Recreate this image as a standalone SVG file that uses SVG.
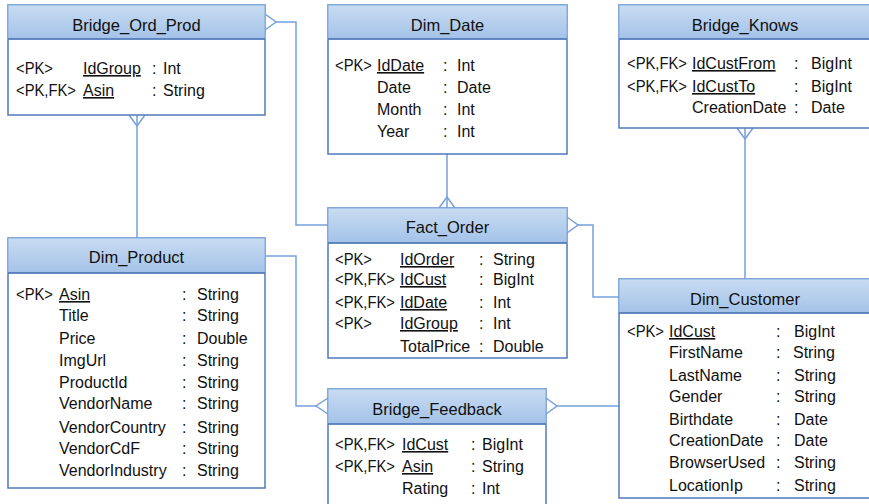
<svg xmlns="http://www.w3.org/2000/svg" width="869" height="504" viewBox="0 0 869 504">
<defs>
<linearGradient id="hg" x1="0" y1="0" x2="0" y2="1">
<stop offset="0" stop-color="#c9dcf2"/>
<stop offset="1" stop-color="#a3c2e8"/>
</linearGradient>
<style>
.body{fill:#ffffff;stroke:#5079bb;stroke-width:1.5}
.head{fill:url(#hg);stroke:#8cb2e2;stroke-width:1.2}
.div{stroke:#4a72b4;stroke-width:1.5}
.t{font-family:"Liberation Sans",Arial,sans-serif;font-size:16px;fill:#111}
.title{font-family:"Liberation Sans",Arial,sans-serif;font-size:16.5px;fill:#111;text-anchor:middle}
.u{text-decoration:underline;text-decoration-thickness:2px}
.con{fill:none;stroke:#76a0db;stroke-width:1.5}
</style>
</defs>
<rect width="869" height="504" fill="#ffffff"/>

<g id="connectors">
<polyline class="con" points="265,14 276,22 265,30"/>
<polyline class="con" points="276,22 296,22 296,225 328,225"/>
<polyline class="con" points="129,115 137,126 145,115"/>
<polyline class="con" points="137,115 137,238"/>
<polyline class="con" points="447,154 447,208"/>
<polyline class="con" points="439,208 447,197 455,208"/>
<polyline class="con" points="567,217 578,225 567,233"/>
<polyline class="con" points="578,225 593,225 593,297 619,297"/>
<polyline class="con" points="737,128 745,139 753,128"/>
<polyline class="con" points="745,128 745,279"/>
<polyline class="con" points="265,256 296,256 296,406 316,406"/>
<polyline class="con" points="328,398 316,406 328,414"/>
<polyline class="con" points="546,398 557,406 546,414"/>
<polyline class="con" points="557,406 619,406"/>
</g>

<g id="Bridge_Ord_Prod">
<rect class="body" x="8" y="5" width="257" height="110"/>
<rect class="head" x="8" y="5" width="257" height="34"/>
<line class="div" x1="8" y1="39" x2="265" y2="39"/>
<text class="title" x="136.5" y="31">Bridge_Ord_Prod</text>
<text class="t" x="16" y="74" textLength="37" lengthAdjust="spacingAndGlyphs">&lt;PK&gt;</text>
<text class="t u" x="83" y="74">IdGroup</text>
<text class="t" x="152" y="74">:</text>
<text class="t" x="163" y="74">Int</text>
<text class="t" x="16" y="96" textLength="60" lengthAdjust="spacingAndGlyphs">&lt;PK,FK&gt;</text>
<text class="t u" x="83" y="96">Asin</text>
<text class="t" x="152" y="96">:</text>
<text class="t" x="163" y="96">String</text>
</g>

<g id="Dim_Date">
<rect class="body" x="328" y="5" width="239" height="149"/>
<rect class="head" x="328" y="5" width="239" height="34"/>
<line class="div" x1="328" y1="39" x2="567" y2="39"/>
<text class="title" x="447.5" y="31">Dim_Date</text>
<text class="t" x="335" y="71" textLength="37" lengthAdjust="spacingAndGlyphs">&lt;PK&gt;</text>
<text class="t u" x="377" y="71">IdDate</text>
<text class="t" x="443" y="71">:</text>
<text class="t" x="457" y="71">Int</text>
<text class="t" x="377" y="93">Date</text>
<text class="t" x="443" y="93">:</text>
<text class="t" x="457" y="93">Date</text>
<text class="t" x="377" y="115">Month</text>
<text class="t" x="443" y="115">:</text>
<text class="t" x="457" y="115">Int</text>
<text class="t" x="377" y="137">Year</text>
<text class="t" x="443" y="137">:</text>
<text class="t" x="457" y="137">Int</text>
</g>

<g id="Bridge_Knows">
<rect class="body" x="619" y="5" width="252" height="123"/>
<rect class="head" x="619" y="5" width="252" height="34"/>
<line class="div" x1="619" y1="39" x2="871" y2="39"/>
<text class="title" x="745" y="31">Bridge_Knows</text>
<text class="t" x="627" y="69" textLength="60" lengthAdjust="spacingAndGlyphs">&lt;PK,FK&gt;</text>
<text class="t u" x="692" y="69">IdCustFrom</text>
<text class="t" x="794" y="69">:</text>
<text class="t" x="811" y="69">BigInt</text>
<text class="t" x="627" y="92" textLength="60" lengthAdjust="spacingAndGlyphs">&lt;PK,FK&gt;</text>
<text class="t u" x="692" y="92">IdCustTo</text>
<text class="t" x="794" y="92">:</text>
<text class="t" x="811" y="92">BigInt</text>
<text class="t" x="692" y="113">CreationDate</text>
<text class="t" x="794" y="113">:</text>
<text class="t" x="811" y="113">Date</text>
</g>

<g id="Dim_Product">
<rect class="body" x="8" y="238" width="257" height="250"/>
<rect class="head" x="8" y="238" width="257" height="35"/>
<line class="div" x1="8" y1="273" x2="265" y2="273"/>
<text class="title" x="136.5" y="263">Dim_Product</text>
<text class="t" x="16" y="300" textLength="37" lengthAdjust="spacingAndGlyphs">&lt;PK&gt;</text>
<text class="t u" x="59" y="300">Asin</text>
<text class="t" x="182" y="300">:</text>
<text class="t" x="197" y="300">String</text>
<text class="t" x="59" y="321">Title</text>
<text class="t" x="182" y="321">:</text>
<text class="t" x="197" y="321">String</text>
<text class="t" x="59" y="344">Price</text>
<text class="t" x="182" y="344">:</text>
<text class="t" x="197" y="344">Double</text>
<text class="t" x="59" y="366">ImgUrl</text>
<text class="t" x="182" y="366">:</text>
<text class="t" x="197" y="366">String</text>
<text class="t" x="59" y="388">ProductId</text>
<text class="t" x="182" y="388">:</text>
<text class="t" x="197" y="388">String</text>
<text class="t" x="59" y="409">VendorName</text>
<text class="t" x="182" y="409">:</text>
<text class="t" x="197" y="409">String</text>
<text class="t" x="59" y="433">VendorCountry</text>
<text class="t" x="182" y="433">:</text>
<text class="t" x="197" y="433">String</text>
<text class="t" x="59" y="454">VendorCdF</text>
<text class="t" x="182" y="454">:</text>
<text class="t" x="197" y="454">String</text>
<text class="t" x="59" y="476">VendorIndustry</text>
<text class="t" x="182" y="476">:</text>
<text class="t" x="197" y="476">String</text>
</g>

<g id="Fact_Order">
<rect class="body" x="328" y="208" width="239" height="150"/>
<rect class="head" x="328" y="208" width="239" height="35"/>
<line class="div" x1="328" y1="243" x2="567" y2="243"/>
<text class="title" x="447.5" y="233">Fact_Order</text>
<text class="t" x="335" y="265" textLength="37" lengthAdjust="spacingAndGlyphs">&lt;PK&gt;</text>
<text class="t u" x="400" y="265">IdOrder</text>
<text class="t" x="479" y="265">:</text>
<text class="t" x="493" y="265">String</text>
<text class="t" x="335" y="285" textLength="60" lengthAdjust="spacingAndGlyphs">&lt;PK,FK&gt;</text>
<text class="t u" x="400" y="285">IdCust</text>
<text class="t" x="479" y="285">:</text>
<text class="t" x="493" y="285">BigInt</text>
<text class="t" x="335" y="308" textLength="60" lengthAdjust="spacingAndGlyphs">&lt;PK,FK&gt;</text>
<text class="t u" x="400" y="308">IdDate</text>
<text class="t" x="479" y="308">:</text>
<text class="t" x="493" y="308">Int</text>
<text class="t" x="335" y="329" textLength="37" lengthAdjust="spacingAndGlyphs">&lt;PK&gt;</text>
<text class="t u" x="400" y="329">IdGroup</text>
<text class="t" x="479" y="329">:</text>
<text class="t" x="493" y="329">Int</text>
<text class="t" x="400" y="352">TotalPrice</text>
<text class="t" x="479" y="352">:</text>
<text class="t" x="493" y="352">Double</text>
</g>

<g id="Dim_Customer">
<rect class="body" x="619" y="279" width="252" height="219"/>
<rect class="head" x="619" y="279" width="252" height="34"/>
<line class="div" x1="619" y1="313" x2="871" y2="313"/>
<text class="title" x="745" y="305">Dim_Customer</text>
<text class="t" x="627" y="337" textLength="37" lengthAdjust="spacingAndGlyphs">&lt;PK&gt;</text>
<text class="t u" x="669" y="337">IdCust</text>
<text class="t" x="776" y="337">:</text>
<text class="t" x="794" y="337">BigInt</text>
<text class="t" x="669" y="358">FirstName</text>
<text class="t" x="776" y="358">:</text>
<text class="t" x="793" y="358">String</text>
<text class="t" x="669" y="381">LastName</text>
<text class="t" x="776" y="381">:</text>
<text class="t" x="794" y="381">String</text>
<text class="t" x="669" y="402">Gender</text>
<text class="t" x="776" y="402">:</text>
<text class="t" x="794" y="402">String</text>
<text class="t" x="669" y="425">Birthdate</text>
<text class="t" x="776" y="425">:</text>
<text class="t" x="794" y="425">Date</text>
<text class="t" x="669" y="446">CreationDate</text>
<text class="t" x="776" y="446">:</text>
<text class="t" x="794" y="446">Date</text>
<text class="t" x="669" y="468">BrowserUsed</text>
<text class="t" x="776" y="468">:</text>
<text class="t" x="794" y="468">String</text>
<text class="t" x="669" y="491">LocationIp</text>
<text class="t" x="776" y="491">:</text>
<text class="t" x="794" y="491">String</text>
</g>

<g id="Bridge_Feedback">
<rect class="body" x="328" y="389" width="218" height="125"/>
<rect class="head" x="328" y="389" width="218" height="35"/>
<line class="div" x1="328" y1="424" x2="546" y2="424"/>
<text class="title" x="437" y="415">Bridge_Feedback</text>
<text class="t" x="335" y="450" textLength="60" lengthAdjust="spacingAndGlyphs">&lt;PK,FK&gt;</text>
<text class="t u" x="402" y="450">IdCust</text>
<text class="t" x="471" y="450">:</text>
<text class="t" x="482" y="450">BigInt</text>
<text class="t" x="335" y="472" textLength="60" lengthAdjust="spacingAndGlyphs">&lt;PK,FK&gt;</text>
<text class="t u" x="402" y="472">Asin</text>
<text class="t" x="471" y="472">:</text>
<text class="t" x="482" y="472">String</text>
<text class="t" x="402" y="494">Rating</text>
<text class="t" x="471" y="494">:</text>
<text class="t" x="482" y="494">Int</text>
</g>
</svg>
